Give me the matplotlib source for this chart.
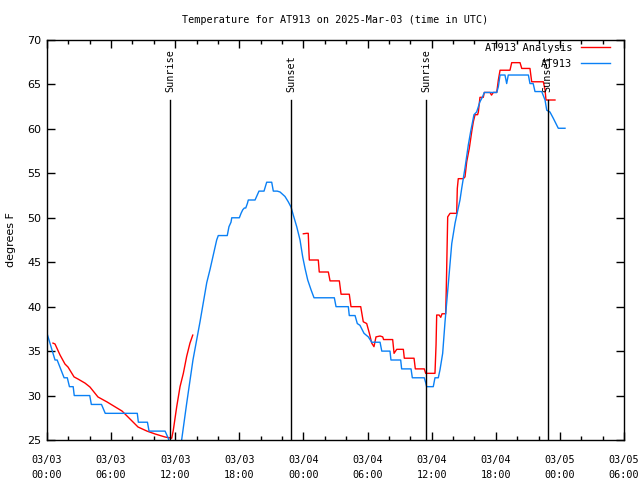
import matplotlib
matplotlib.use("Agg")
import matplotlib.pyplot as plt
import matplotlib.dates as mdates
import pandas as pd
import numpy as np

# ---- data (hours since 2025-03-03 00:00 UTC, degrees F) ----
obs_hours = [0.0, 0.75, 0.95, 1.6, 1.9, 2.1, 2.45, 2.55, 4.0, 4.15, 5.1, 5.45, 8.45, 8.55,
             9.4, 9.55, 11.05, 11.35, 11.6, 12.45, 12.6, 13.07, 13.66, 14.32, 14.95, 15.26,
             15.56, 15.88, 16.03, 16.87, 17.03, 17.22, 17.29, 18.0, 18.16, 18.32, 18.47, 18.6,
             18.75, 18.84, 19.47, 19.84, 20.31, 20.56, 21.03, 21.18, 21.55, 21.81, 22.27,
             22.58, 22.84, 23.05, 23.37, 23.68, 23.93, 24.15, 24.4, 24.71, 24.99, 26.89, 27.05,
             28.2, 28.29, 28.83, 29.04, 29.29, 29.67, 30.07, 30.39, 31.17, 31.33, 32.1, 32.19,
             33.1, 33.19, 34.07, 34.19, 35.31, 35.44, 35.53, 36.15, 36.31, 36.62, 36.78, 37.03,
             37.25, 37.56, 37.88, 38.19, 38.65, 38.81, 39.12, 39.43, 39.65, 39.96, 40.21, 40.52,
             40.74, 40.93, 42.09, 42.24, 42.4, 42.86, 43.02, 43.17, 45.05, 45.2, 45.5, 45.67,
             46.3, 46.61, 46.77, 47.07, 47.38, 47.85, 48.48]
obs_temps = [37.0, 34.0, 34.0, 32.0, 32.0, 31.0, 31.0, 30.0, 30.0, 29.0, 29.0, 28.0, 28.0, 27.0,
             27.0, 26.0, 26.0, 25.2, 24.0, 24.0, 25.0, 29.1, 34.0, 38.3, 42.7, 44.2,
             45.8, 47.5, 48.0, 48.0, 49.0, 49.5, 50.0, 50.0, 50.5, 50.9, 51.1, 51.1,
             51.6, 52.0, 52.0, 53.0, 53.0, 54.0, 54.0, 53.0, 53.0, 52.9, 52.4,
             51.8, 51.2, 50.3, 49.0, 47.5, 45.6, 44.3, 43.0, 41.9, 41.0, 41.0, 40.0,
             40.0, 39.0, 39.0, 38.1, 37.9, 37.0, 36.6, 36.0, 36.0, 35.0, 35.0, 34.0,
             34.0, 33.0, 33.0, 32.0, 32.0, 31.45, 31.0, 31.0, 32.0, 32.0, 32.9, 34.75,
             38.3, 42.6, 47.1, 49.4, 52.0, 53.3, 55.6, 58.2, 59.7, 61.6, 61.9, 63.06,
             63.55, 64.1, 64.1, 64.75, 66.06, 66.06, 65.1, 66.06, 66.06, 65.1, 65.1, 64.2,
             64.2, 63.25, 62.1, 61.9, 61.2, 60.07, 60.07]

ana1_hours = [0.56, 0.75, 1.22, 1.68, 1.97, 2.53, 2.9, 3.56, 4.02, 4.77, 5.62, 6.55, 7.02,
              7.58, 8.52, 9.36, 10.11, 11.04, 11.67, 11.82, 12.14, 12.45, 12.76, 13.07, 13.38,
              13.64]
ana1_temps = [35.9, 35.8, 34.56, 33.55, 33.2, 32.1, 31.86, 31.4, 30.96, 29.84, 29.28, 28.6, 28.26,
              27.59, 26.46, 26.0, 25.68, 25.34, 25.2, 26.1, 28.75, 31.0, 32.5, 34.4, 35.9,
              36.8]

ana2_hours = [23.99, 24.3, 24.45, 24.52, 24.55, 25.39, 25.48, 26.33, 26.49, 27.36, 27.52, 28.29,
              28.45, 29.36, 29.6, 29.92, 30.17, 30.39, 30.6, 30.79, 31.17, 31.42, 31.5, 32.35,
              32.48, 32.73, 33.35, 33.44, 34.35, 34.47, 35.31, 35.44, 36.31, 36.41, 36.47, 36.7,
              36.85, 36.97, 37.31, 37.37, 37.5, 37.72, 38.34, 38.4, 38.49, 38.96, 39.12, 39.28,
              39.52, 39.75, 39.9, 40.06, 40.3, 40.37, 40.52, 40.83, 40.93, 41.46, 41.6, 41.77,
              42.09, 42.24, 42.4, 43.33, 43.49, 44.27, 44.43, 45.2, 45.36, 46.45, 46.61, 46.7,
              47.54]
ana2_temps = [48.2, 48.25, 48.25, 46.0, 45.25, 45.25, 43.9, 43.9, 42.9, 42.9, 41.4, 41.4,
              40.0, 40.0, 38.3, 38.1, 37.0, 35.9, 35.5, 36.6, 36.7, 36.6, 36.3, 36.3,
              34.75, 35.2, 35.2, 34.2, 34.2, 33.0, 33.0, 32.5, 32.5, 35.7, 39.06, 39.06,
              38.8, 39.2, 39.2, 42.1, 50.1, 50.5, 50.5, 53.3, 54.4, 54.4, 54.6, 56.3,
              57.8, 59.7, 60.8, 61.6, 61.6, 61.9, 63.55, 63.55, 64.1, 64.1, 63.8, 64.1,
              64.1, 65.5, 66.6, 66.6, 67.45, 67.45, 66.8, 66.8, 65.3, 65.3, 64.4, 63.25,
              63.25]

sun_hours = [11.53, 22.88, 35.5, 46.85]
sun_labels = ["Sunrise", "Sunset", "Sunrise", "Sunset"]

title = "Temperature for AT913 on 2025-Mar-03 (time in UTC)"
ylabel = "degrees F"
series_names = ["AT913 Analysis", "AT913"]

base = pd.Timestamp("2025-03-03 00:00")
def to_time(hours):
    return [base + pd.Timedelta(hours=h) for h in hours]

mono = "DejaVu Sans Mono"

fig = plt.figure(figsize=(6.4, 4.8), dpi=100)
ax = fig.add_axes([47/640, 40/480, 577/640, 400/480])

ax.plot(to_time(ana1_hours), ana1_temps, color="#ff0000", lw=1.0, label=series_names[0])
ax.plot(to_time(ana2_hours), ana2_temps, color="#ff0000", lw=1.0)
ax.plot(to_time(obs_hours), obs_temps, color="#0a80f5", lw=1.0, label=series_names[1])

for h, lab in zip(sun_hours, sun_labels):
    t = base + pd.Timedelta(hours=h)
    ax.plot([t, t], [25, 63.3], color="black", lw=1.0)
    ax.text(t, 64.1, lab, rotation=90, ha="center", va="bottom", fontsize=7.3, family=mono)

ax.set_xlim(base, base + pd.Timedelta(hours=54))
ax.set_ylim(25, 70)
ax.set_yticks(np.arange(25, 71, 5))
ax.xaxis.set_major_locator(mdates.HourLocator(byhour=[0, 6, 12, 18]))
ax.xaxis.set_minor_locator(mdates.HourLocator(interval=2))
ax.xaxis.set_major_formatter(mdates.DateFormatter("%m/%d\n%H:%M"))

ax.tick_params(axis="both", which="both", direction="in", top=True, right=True, width=1.0)
ax.tick_params(axis="x", which="major", length=6, pad=11, labelsize=7.3)
ax.tick_params(axis="x", which="minor", length=3)
ax.tick_params(axis="y", which="major", length=6, pad=4, labelsize=8)
for lab in ax.get_xticklabels():
    lab.set_family(mono)
    lab.set_linespacing(1.6)
for sp in ax.spines.values():
    sp.set_linewidth(1.0)

ax.set_title(title, fontsize=7.3, family=mono, pad=12)
ax.set_ylabel(ylabel, fontsize=8, labelpad=8)

leg = ax.legend(loc="upper right", bbox_to_anchor=((610-47)/577, 0.993), borderaxespad=0,
                borderpad=0, frameon=False, markerfirst=False, handlelength=2.8,
                handletextpad=0.8, labelspacing=0.55, prop={"family": mono, "size": 7.5})

fig.savefig("out.png", dpi=100)
